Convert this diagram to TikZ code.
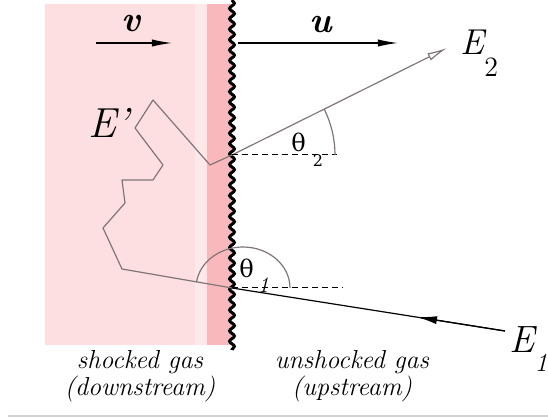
\documentclass[tikz,border=0pt]{standalone}
\usepackage{fontspec}
\newfontfamily\thetafont{DejaVu Serif}
\usetikzlibrary{arrows.meta,decorations.pathmorphing}
\definecolor{gaslight}{RGB}{253,222,225}
\definecolor{gasband}{RGB}{253,232,234}
\definecolor{gasdark}{RGB}{249,185,188}
\definecolor{walkgray}{RGB}{128,118,120}
\newcommand{\fsz}[1]{\fontsize{#1}{#1}\selectfont}

\begin{document}
\begin{tikzpicture}[x=0.5pt,y=-0.5pt,
	lbl/.style={anchor=base west, inner sep=0pt},
	walk/.style={walkgray, line width=0.6pt},
	guide/.style={black, line width=0.5pt, dash pattern=on 3pt off 2pt},
	flow/.style={line width=0.6pt, -{Latex[length=10pt,width=3.6pt]}}]
	
	\clip (0,0) rectangle (548,417);
	\fill[white] (0,0) rectangle (548,417);
	
	% Shocked gas region
	\fill[gaslight] (45,4) rectangle (195,345);
	\fill[gasband] (195,4) rectangle (207,345);
	\fill[gasdark] (207,4) rectangle (232,345);
	\draw[line width=1.5pt, decorate, decoration={snake, segment length=5.2pt, amplitude=1.2pt}] (232,0) -- (232,350);
	
	% Points on the front
	\coordinate (hit2) at (232,155);
	\coordinate (hit1) at (232,288);
	\coordinate (tip2) at (447,48);
	\coordinate (src1) at (505,331);
	\coordinate (mid1) at (417,317);
	\coordinate (d2end) at (337,155);
	\coordinate (d1end) at (343,288);
	
	% Flow speeds
	\coordinate (vtail) at (96,43);
	\coordinate (vhead) at (172,43);
	\coordinate (utail) at (238,43);
	\coordinate (uhead) at (398,43);
	\draw[flow] (vtail) -- (vhead);
	\draw[flow] (utail) -- (uhead);
	\node[lbl, font=\fsz{18}\bfseries\itshape] (vlabel) at (121,32) {v};
	\node[lbl, font=\fsz{18}\bfseries\itshape] (ulabel) at (309,33) {u};
	
	% Random walk downstream
	\coordinate (w1) at (210,165);
	\coordinate (w2) at (153,100);
	\coordinate (w3) at (135,128);
	\coordinate (w4) at (163,165);
	\coordinate (w5) at (153,180);
	\coordinate (w6) at (122,180);
	\coordinate (w7) at (125,203);
	\coordinate (w8) at (103,228);
	\coordinate (w9) at (122,269);
	\draw[walk, line join=round] (hit2) -- (w1) -- (w2) -- (w3) -- (w4) -- (w5) -- (w6) -- (w7) -- (w8) -- (w9) -- (hit1);
	\node[lbl, font=\fsz{21}\itshape] (Eprime) at (88,138) {E'};
	
	% Incoming and outgoing particle
	\draw[black, line width=0.6pt] (src1) -- (hit1);
	\draw[line width=0.6pt, -{Latex[length=10pt,width=4pt]}] (src1) -- (mid1);
	\draw[walkgray, line width=0.6pt, -{Latex[open,length=10pt,width=4pt]}] (hit2) -- (tip2);
	\node[lbl, font=\fsz{18}\itshape] (E2) at (460,55) {E\raisebox{-11pt}{\fsz{14}\upshape 2}};
	\node[lbl, font=\fsz{19}\itshape] (E1) at (509,353) {E\raisebox{-9.5pt}{\fsz{13}1}};
	
	% Angles
	\draw[guide] (hit2) -- (d2end);
	\draw[guide] (hit1) -- (d1end);
	\draw[walk] (hit2) ++(103,0) arc[start angle=0, end angle=-26.5, radius=103];
	\draw[walk] (290,288) arc[start angle=0, end angle=-172, x radius=47, y radius=41];
	\node[lbl, font=\fsz{12}\thetafont] (th2) at (291,152) {θ\hspace{3.5pt}\raisebox{-7.5pt}{\fsz{8}2}};
	\node[lbl, font=\fsz{12}\thetafont] (th1) at (239,278) {θ\hspace{2pt}\raisebox{-7.5pt}{\fsz{11}\normalfont\itshape 1}};
	
	% Gas labels
	\node[font=\fontsize{13}{11.5}\selectfont\itshape, align=center] (down) at (140,376) {shocked gas\\(downstream)};
	\node[font=\fontsize{13}{11.5}\selectfont\itshape, align=center] (up) at (352,376) {unshocked gas\\(upstream)};
	
	\draw[gray!35, line width=0.6pt] (8,416) -- (548,416);
	
\end{tikzpicture}
\end{document}
